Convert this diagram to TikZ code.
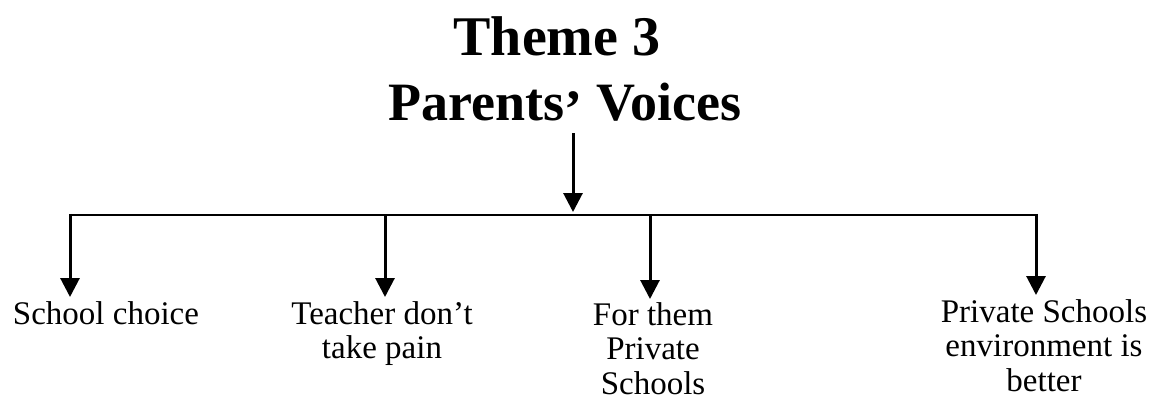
\documentclass[tikz,border=0pt]{standalone}
\usepackage{fontspec}
\setmainfont{Liberation Serif}
\usetikzlibrary{arrows.meta}
\tikzset{
  lbl/.style={inner sep=0pt, anchor=base, align=center, text depth=0pt, font=\fontsize{33}{34.5}\selectfont},
  ttl/.style={inner sep=0pt, anchor=base, font=\bfseries\fontsize{#1}{#1}\selectfont},
  arr/.style={line width=3pt, -{Triangle[width=19pt,length=19pt]}},
  bar/.style={line width=2.4pt}
}
\begin{document}
\begin{tikzpicture}[x=1pt,y=1pt]
\useasboundingbox (0,0) rectangle (1152,-400);
\node[ttl=56] (t1) at (557,-55) {Theme 3};
\node[ttl=54] (t2) at (565,-120) {Parents\raisebox{-0.3ex}{’}~Voices};
\coordinate (top) at (573,-133);
\coordinate (j) at (573,-212);
\coordinate (h1) at (70,-215);
\coordinate (h2) at (385,-215);
\coordinate (h3) at (650,-215);
\coordinate (h4) at (1036,-215);
% base anchor = baseline of the last line
\node[lbl] (l1) at (106,-324) {School choice};
\node[lbl] (l2) at (382,-358.5) {Teacher don’t\\take pain};
\node[lbl] (l3) at (653,-394) {For them\\Private\\Schools};
\node[lbl] (l4) at (1044,-391) {Private Schools\\environment is\\better};
\coordinate (a1) at (70,-297);
\coordinate (a2) at (385,-297);
\coordinate (a3) at (650,-299);
\coordinate (a4) at (1036,-295);
\draw[arr] (top) -- (j);
\draw[bar] (h1) -- (h4);
\draw[arr] ([yshift=1.2pt]h1) -- (a1);
\draw[arr] (h2) -- (a2);
\draw[arr] (h3) -- (a3);
\draw[arr] ([yshift=1.2pt]h4) -- (a4);
\end{tikzpicture}
\end{document}
